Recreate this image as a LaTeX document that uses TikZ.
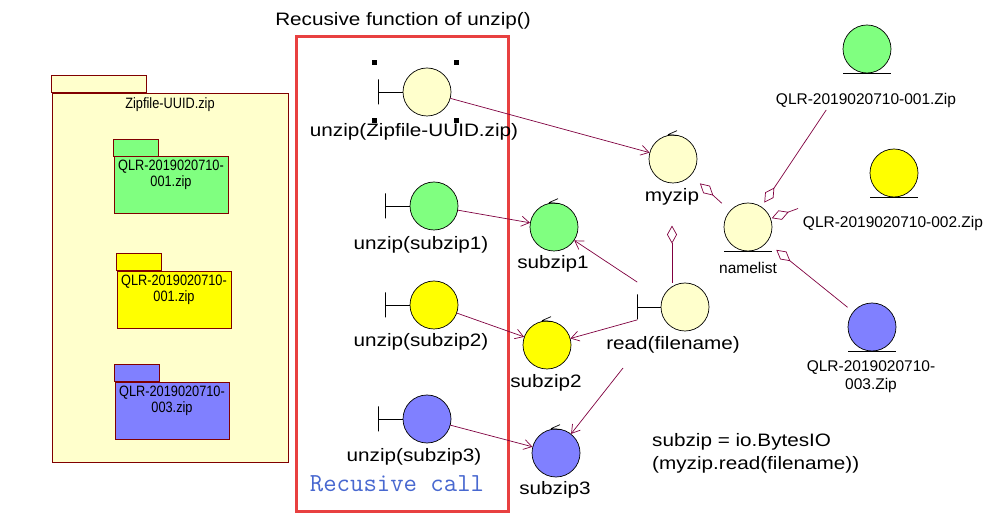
\documentclass[tikz,border=0pt]{standalone}
\usepackage{fontspec}
\setmainfont{Liberation Sans}
\newfontfamily\umlfont[FakeStretch=1.15]{Liberation Sans}
\newfontfamily\pkgfont[FakeStretch=0.85]{Liberation Sans}
\usetikzlibrary{positioning, arrows.meta}

\definecolor{pkgyellow}{RGB}{255,255,204}
\definecolor{zipgreen}{RGB}{128,255,128}
\definecolor{zipyellow}{RGB}{255,255,0}
\definecolor{zipblue}{RGB}{128,128,255}
\definecolor{linkred}{RGB}{128,0,64}
\definecolor{pkgred}{RGB}{128,0,0}
\definecolor{boxred}{RGB}{232,64,64}
\definecolor{callblue}{RGB}{72,104,208}

\tikzstyle{obj} = [
  circle, draw=black, line width=0.7pt,
  minimum size=48pt, inner sep=0pt,
  fill=pkgyellow
]
\tikzstyle{tbar} = [
  rectangle, draw=black, line width=0.7pt,
  minimum width=0pt, minimum height=25pt, inner sep=0pt
]
\tikzstyle{biglabel} = [
  font=\umlfont\fontsize{18}{23}\selectfont,
  inner sep=1pt, align=center
]
\tikzstyle{midlabel} = [
  font=\fontsize{15.5}{18}\selectfont,
  inner sep=1pt, align=center
]
\tikzstyle{pkgbody} = [
  rectangle, draw=pkgred, line width=0.7pt,
  minimum width=114pt, minimum height=57pt, inner sep=0pt
]
\tikzstyle{pkgtext} = [
  font=\pkgfont\fontsize{15}{16}\selectfont,
  inner sep=1pt, align=center
]
\tikzset{
  link/.style={draw=linkred, line width=0.7pt,
    -{Straight Barb[length=8pt,width=10pt]}},
  aggr/.style={draw=linkred, line width=0.7pt,
    -{Diamond[open,length=18pt,width=10pt]}}
}

\begin{document}
\begin{tikzpicture}[x=1pt, y=-1pt]

\fill[white] (0,0) rectangle (991,518);

% ------------------------------------------------
% PAQUETES (izquierda)
% ------------------------------------------------

% pk0: Zipfile-UUID.zip
\node[pkgbody, minimum width=236pt, minimum height=369pt, fill=pkgyellow] (pk0) at (170,277.5) {};
\draw[draw=pkgred, line width=0.7pt, fill=pkgyellow] (pk0.north west) rectangle ++(95pt,17pt);
\node[pkgtext, below=4pt of pk0.north] (pk0t) {Zipfile-UUID.zip};

% pk1: verde
\node[pkgbody, fill=zipgreen] (pk1) at (171,185) {};
\draw[draw=pkgred, line width=0.7pt, fill=zipgreen] (pk1.north west) rectangle ++(45pt,17pt);
\node[pkgtext, below=3pt of pk1.north] (pk1t) {QLR-2019020710-\\001.zip};

% pk2: amarillo
\node[pkgbody, fill=zipyellow] (pk2) at (174,299.5) {};
\draw[draw=pkgred, line width=0.7pt, fill=zipyellow] (pk2.north west) rectangle ++(45pt,17pt);
\node[pkgtext, below=3pt of pk2.north] (pk2t) {QLR-2019020710-\\001.zip};

% pk3: azul
\node[pkgbody, fill=zipblue] (pk3) at (172,410.5) {};
\draw[draw=pkgred, line width=0.7pt, fill=zipblue] (pk3.north west) rectangle ++(45pt,17pt);
\node[pkgtext, below=3pt of pk3.north] (pk3t) {QLR-2019020710-\\003.zip};

% ------------------------------------------------
% FUNCION RECURSIVA (caja roja)
% ------------------------------------------------

\node[draw=boxred, line width=3pt, minimum width=212pt, minimum height=474.5pt, inner sep=0pt] (recbox) at (402.5,273.75) {};
\node[biglabel] (title) at (403,21) {Recusive function of unzip()};

% uz0: unzip del zip principal
\node[obj] (uz0) at (427,92) {};
\node[tbar, left=24pt of uz0] (uz0T) {};
\node[biglabel] (uz0l) at (414,132) {unzip(Zipfile-UUID.zip)};
\foreach \hx/\hy in {374.5/62.5, 456/62.5, 374.5/121, 456/121}
  \fill (\hx-2.5,\hy-2.5) rectangle ++(5,5);

% uz1..uz3: llamadas recursivas
\node[obj, fill=zipgreen] (uz1) at (434,206) {};
\node[tbar, left=24pt of uz1] (uz1T) {};
\node[biglabel] (uz1l) at (421,245) {unzip(subzip1)};

\node[obj, fill=zipyellow] (uz2) at (434,305) {};
\node[tbar, left=24pt of uz2] (uz2T) {};
\node[biglabel] (uz2l) at (421,342) {unzip(subzip2)};

\node[obj, fill=zipblue] (uz3) at (427,419) {};
\node[tbar, left=24pt of uz3] (uz3T) {};
\node[biglabel] (uz3l) at (414,457) {unzip(subzip3)};

\node[font=\ttfamily\fontsize{26}{28}\selectfont, text=callblue, inner sep=1pt] (calltext) at (397,484) {Recusive call};

% ------------------------------------------------
% OBJETOS (centro)
% ------------------------------------------------

\node[obj, fill=zipgreen] (sz1) at (554,227) {};
\node[biglabel] (sz1l) at (553,264) {subzip1};

\node[obj, fill=zipyellow] (sz2) at (547,345) {};
\node[biglabel] (sz2l) at (546,383) {subzip2};

\node[obj, fill=zipblue] (sz3) at (556,453) {};
\node[biglabel] (sz3l) at (555,490) {subzip3};

\node[obj] (myzip) at (673,159) {};
\node[biglabel] (myzipl) at (672,197) {myzip};

\node[obj] (read) at (685,307) {};
\node[tbar, left=23pt of read] (readT) {};
\node[biglabel] (readl) at (673,345) {read(filename)};

\node[biglabel, anchor=west, align=left] (bytesnote) at (651,453.5) {subzip = io.BytesIO\\(myzip.read(filename))};

% ------------------------------------------------
% ENTIDADES (derecha)
% ------------------------------------------------

\node[obj] (namelist) at (748,227) {};
\node[midlabel] (namelistl) at (748,268) {namelist};

\node[obj, fill=zipgreen] (q1) at (867,49) {};
\node[midlabel] (q1l) at (866,100) {QLR-2019020710-001.Zip};

\node[obj, fill=zipyellow] (q2) at (894,173) {};
\node[midlabel] (q2l) at (893,223) {QLR-2019020710-002.Zip};

\node[obj, fill=zipblue] (q3) at (872,327) {};
\node[midlabel] (q3l) at (871,377) {QLR-2019020710-\\003.Zip};

% marcas de control y de entidad
\foreach \c in {myzip, sz1, sz2, sz3}
  \draw[line width=0.7pt] ([xshift=-5pt]\c.north) -- ++(9pt,4pt)
                          ([xshift=-5pt]\c.north) -- ++(9pt,-1pt);
\foreach \e in {q1, q2, q3, namelist}
  \draw[line width=0.7pt] ([xshift=-24pt]\e.south) -- ([xshift=24pt]\e.south);

% ------------------------------------------------
% CONEXIONES
% ------------------------------------------------

% barras de frontera
\draw[line width=0.7pt] (uz0T) -- (uz0);
\draw[line width=0.7pt] (uz1T) -- (uz1);
\draw[line width=0.7pt] (uz2T) -- (uz2);
\draw[line width=0.7pt] (uz3T) -- (uz3);
\draw[line width=0.7pt] (readT) -- (read);

% llamadas
\draw[link] (uz0) -- (myzip);
\draw[link] (uz1) -- (sz1);
\draw[link] (uz2) -- (sz2);
\draw[link] (uz3) -- (sz3);

% read(filename) hacia los subzip
\draw[link] ([yshift=12pt]readT.north) -- (sz1);
\draw[link] (readT.south) -- (sz2);
\draw[link] ([xshift=-50pt,yshift=-23pt]readl.center) -- (sz3);

% agregaciones
\draw[aggr] (myzipl.south |- read.north) -- ([yshift=-19pt]myzipl.south);
\draw[aggr, shorten <=11pt, shorten >=12pt] (namelist) -- (myzip);
\draw[aggr, shorten <=49pt, shorten >=5pt] (q1) -- (namelist);
\draw[aggr, shorten <=78pt, shorten >=1pt] (q2) -- (namelist);
\draw[aggr, shorten <=7pt, shorten >=12pt] (q3) -- (namelist);

\end{tikzpicture}
\end{document}
